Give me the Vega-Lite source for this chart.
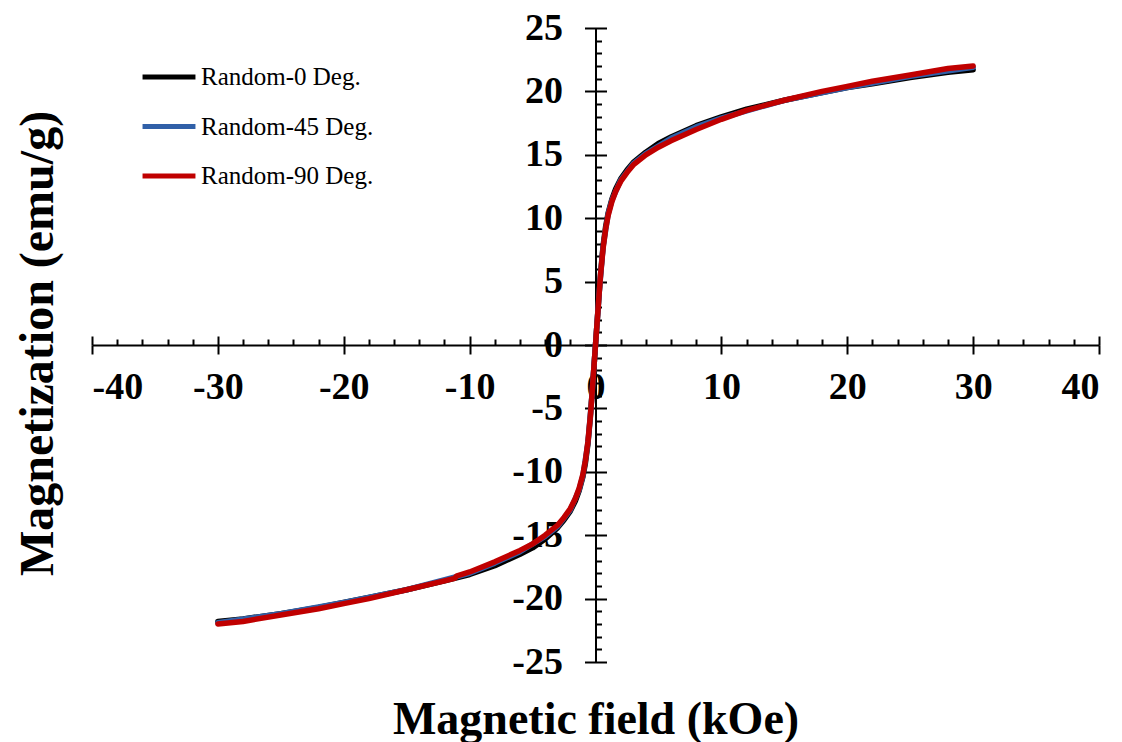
{
  "$schema": "https://vega.github.io/schema/vega-lite/v6.json",
  "width": 1007,
  "height": 634,
  "autosize": "none",
  "padding": {"left": 92, "top": 28, "right": 23, "bottom": 80},
  "background": "white",
  "config": {
    "view": {"stroke": null},
    "axis": {
      "grid": false,
      "domainColor": "black",
      "tickColor": "black",
      "domainWidth": 2,
      "tickWidth": 2,
      "labelFont": "Liberation Serif",
      "labelFontWeight": "bold",
      "labelFontSize": 38,
      "labelColor": "black",
      "titleFont": "Liberation Serif",
      "titleFontWeight": "bold",
      "titleColor": "black"
    }
  },
  "data": {
    "values": [
      {"s": "Random-0 Deg.", "H": -30, "M": -21.8},
      {"s": "Random-0 Deg.", "H": -28, "M": -21.6},
      {"s": "Random-0 Deg.", "H": -25, "M": -21.2},
      {"s": "Random-0 Deg.", "H": -22, "M": -20.7},
      {"s": "Random-0 Deg.", "H": -20, "M": -20.3},
      {"s": "Random-0 Deg.", "H": -18, "M": -19.9},
      {"s": "Random-0 Deg.", "H": -15, "M": -19.3},
      {"s": "Random-0 Deg.", "H": -12, "M": -18.6},
      {"s": "Random-0 Deg.", "H": -10, "M": -18.1},
      {"s": "Random-0 Deg.", "H": -8, "M": -17.4},
      {"s": "Random-0 Deg.", "H": -6, "M": -16.5},
      {"s": "Random-0 Deg.", "H": -5, "M": -16.0},
      {"s": "Random-0 Deg.", "H": -4, "M": -15.3},
      {"s": "Random-0 Deg.", "H": -3, "M": -14.4},
      {"s": "Random-0 Deg.", "H": -2.5, "M": -13.8},
      {"s": "Random-0 Deg.", "H": -2, "M": -13.1},
      {"s": "Random-0 Deg.", "H": -1.6, "M": -12.3},
      {"s": "Random-0 Deg.", "H": -1.3, "M": -11.5},
      {"s": "Random-0 Deg.", "H": -1.0, "M": -10.4},
      {"s": "Random-0 Deg.", "H": -0.8, "M": -9.3},
      {"s": "Random-0 Deg.", "H": -0.6, "M": -7.8},
      {"s": "Random-0 Deg.", "H": -0.4, "M": -5.6},
      {"s": "Random-0 Deg.", "H": -0.3, "M": -4.2},
      {"s": "Random-0 Deg.", "H": -0.2, "M": -2.8},
      {"s": "Random-0 Deg.", "H": -0.1, "M": -1.4},
      {"s": "Random-0 Deg.", "H": 0, "M": 0},
      {"s": "Random-0 Deg.", "H": 0.1, "M": 1.4},
      {"s": "Random-0 Deg.", "H": 0.2, "M": 2.8},
      {"s": "Random-0 Deg.", "H": 0.3, "M": 4.2},
      {"s": "Random-0 Deg.", "H": 0.4, "M": 5.6},
      {"s": "Random-0 Deg.", "H": 0.6, "M": 7.8},
      {"s": "Random-0 Deg.", "H": 0.8, "M": 9.3},
      {"s": "Random-0 Deg.", "H": 1.0, "M": 10.4},
      {"s": "Random-0 Deg.", "H": 1.3, "M": 11.5},
      {"s": "Random-0 Deg.", "H": 1.6, "M": 12.3},
      {"s": "Random-0 Deg.", "H": 2, "M": 13.1},
      {"s": "Random-0 Deg.", "H": 2.5, "M": 13.8},
      {"s": "Random-0 Deg.", "H": 3, "M": 14.4},
      {"s": "Random-0 Deg.", "H": 4, "M": 15.2},
      {"s": "Random-0 Deg.", "H": 5, "M": 15.9},
      {"s": "Random-0 Deg.", "H": 6, "M": 16.4},
      {"s": "Random-0 Deg.", "H": 8, "M": 17.3},
      {"s": "Random-0 Deg.", "H": 10, "M": 18.0},
      {"s": "Random-0 Deg.", "H": 12, "M": 18.6},
      {"s": "Random-0 Deg.", "H": 15, "M": 19.3},
      {"s": "Random-0 Deg.", "H": 18, "M": 19.9},
      {"s": "Random-0 Deg.", "H": 20, "M": 20.3},
      {"s": "Random-0 Deg.", "H": 22, "M": 20.6},
      {"s": "Random-0 Deg.", "H": 25, "M": 21.1},
      {"s": "Random-0 Deg.", "H": 28, "M": 21.5},
      {"s": "Random-0 Deg.", "H": 30, "M": 21.7},

      {"s": "Random-45 Deg.", "H": -30, "M": -21.9},
      {"s": "Random-45 Deg.", "H": -25, "M": -21.2},
      {"s": "Random-45 Deg.", "H": -20, "M": -20.3},
      {"s": "Random-45 Deg.", "H": -15, "M": -19.3},
      {"s": "Random-45 Deg.", "H": -10, "M": -18.0},
      {"s": "Random-45 Deg.", "H": -8, "M": -17.2},
      {"s": "Random-45 Deg.", "H": -6, "M": -16.3},
      {"s": "Random-45 Deg.", "H": -4, "M": -15.1},
      {"s": "Random-45 Deg.", "H": -3, "M": -14.3},
      {"s": "Random-45 Deg.", "H": -2, "M": -13.0},
      {"s": "Random-45 Deg.", "H": -1.3, "M": -11.4},
      {"s": "Random-45 Deg.", "H": -1.0, "M": -10.3},
      {"s": "Random-45 Deg.", "H": -0.6, "M": -7.7},
      {"s": "Random-45 Deg.", "H": -0.3, "M": -4.2},
      {"s": "Random-45 Deg.", "H": 0, "M": 0},
      {"s": "Random-45 Deg.", "H": 0.3, "M": 4.2},
      {"s": "Random-45 Deg.", "H": 0.6, "M": 7.7},
      {"s": "Random-45 Deg.", "H": 1.0, "M": 10.3},
      {"s": "Random-45 Deg.", "H": 1.3, "M": 11.4},
      {"s": "Random-45 Deg.", "H": 2, "M": 13.0},
      {"s": "Random-45 Deg.", "H": 3, "M": 14.3},
      {"s": "Random-45 Deg.", "H": 4, "M": 15.1},
      {"s": "Random-45 Deg.", "H": 6, "M": 16.3},
      {"s": "Random-45 Deg.", "H": 8, "M": 17.2},
      {"s": "Random-45 Deg.", "H": 10, "M": 17.9},
      {"s": "Random-45 Deg.", "H": 15, "M": 19.3},
      {"s": "Random-45 Deg.", "H": 20, "M": 20.3},
      {"s": "Random-45 Deg.", "H": 25, "M": 21.2},
      {"s": "Random-45 Deg.", "H": 30, "M": 21.9},

      {"s": "Random-90 Deg.", "H": -30, "M": -22.0},
      {"s": "Random-90 Deg.", "H": -28, "M": -21.8},
      {"s": "Random-90 Deg.", "H": -25, "M": -21.3},
      {"s": "Random-90 Deg.", "H": -22, "M": -20.8},
      {"s": "Random-90 Deg.", "H": -20, "M": -20.4},
      {"s": "Random-90 Deg.", "H": -18, "M": -20.0},
      {"s": "Random-90 Deg.", "H": -15, "M": -19.3},
      {"s": "Random-90 Deg.", "H": -12, "M": -18.6},
      {"s": "Random-90 Deg.", "H": -11.2, "M": -18.4},
      {"s": "Random-90 Deg.", "H": -11.0, "M": -18.2},
      {"s": "Random-90 Deg.", "H": -10, "M": -17.9},
      {"s": "Random-90 Deg.", "H": -8, "M": -17.1},
      {"s": "Random-90 Deg.", "H": -6, "M": -16.2},
      {"s": "Random-90 Deg.", "H": -5, "M": -15.7},
      {"s": "Random-90 Deg.", "H": -4, "M": -15.0},
      {"s": "Random-90 Deg.", "H": -3, "M": -14.2},
      {"s": "Random-90 Deg.", "H": -2.5, "M": -13.6},
      {"s": "Random-90 Deg.", "H": -2, "M": -12.9},
      {"s": "Random-90 Deg.", "H": -1.6, "M": -12.1},
      {"s": "Random-90 Deg.", "H": -1.3, "M": -11.3},
      {"s": "Random-90 Deg.", "H": -1.0, "M": -10.2},
      {"s": "Random-90 Deg.", "H": -0.8, "M": -9.1},
      {"s": "Random-90 Deg.", "H": -0.6, "M": -7.6},
      {"s": "Random-90 Deg.", "H": -0.4, "M": -5.5},
      {"s": "Random-90 Deg.", "H": -0.3, "M": -4.2},
      {"s": "Random-90 Deg.", "H": -0.2, "M": -2.8},
      {"s": "Random-90 Deg.", "H": -0.1, "M": -1.4},
      {"s": "Random-90 Deg.", "H": 0, "M": 0},
      {"s": "Random-90 Deg.", "H": 0.1, "M": 1.4},
      {"s": "Random-90 Deg.", "H": 0.2, "M": 2.8},
      {"s": "Random-90 Deg.", "H": 0.3, "M": 4.2},
      {"s": "Random-90 Deg.", "H": 0.4, "M": 5.5},
      {"s": "Random-90 Deg.", "H": 0.6, "M": 7.6},
      {"s": "Random-90 Deg.", "H": 0.8, "M": 9.1},
      {"s": "Random-90 Deg.", "H": 1.0, "M": 10.2},
      {"s": "Random-90 Deg.", "H": 1.3, "M": 11.3},
      {"s": "Random-90 Deg.", "H": 1.6, "M": 12.1},
      {"s": "Random-90 Deg.", "H": 2, "M": 12.9},
      {"s": "Random-90 Deg.", "H": 2.5, "M": 13.6},
      {"s": "Random-90 Deg.", "H": 3, "M": 14.2},
      {"s": "Random-90 Deg.", "H": 4, "M": 15.0},
      {"s": "Random-90 Deg.", "H": 5, "M": 15.6},
      {"s": "Random-90 Deg.", "H": 6, "M": 16.1},
      {"s": "Random-90 Deg.", "H": 8, "M": 17.0},
      {"s": "Random-90 Deg.", "H": 10, "M": 17.8},
      {"s": "Random-90 Deg.", "H": 12, "M": 18.5},
      {"s": "Random-90 Deg.", "H": 15, "M": 19.3},
      {"s": "Random-90 Deg.", "H": 18, "M": 20.0},
      {"s": "Random-90 Deg.", "H": 20, "M": 20.4},
      {"s": "Random-90 Deg.", "H": 22, "M": 20.8},
      {"s": "Random-90 Deg.", "H": 25, "M": 21.3},
      {"s": "Random-90 Deg.", "H": 28, "M": 21.8},
      {"s": "Random-90 Deg.", "H": 30, "M": 22.0}
    ]
  },
  "resolve": {"axis": {"x": "independent", "y": "independent"}},
  "layer": [
    {
      "mark": {"type": "line", "strokeWidth": 5.5, "strokeCap": "round", "strokeJoin": "round"},
      "encoding": {
        "x": {
          "field": "H", "type": "quantitative",
          "scale": {"domain": [-40, 40], "nice": false, "zero": false},
          "axis": {
            "orient": "bottom", "offset": -317,
            "values": [-40, -30, -20, -10, 0, 10, 20, 30, 40],
            "labelExpr": "datum.value < 0 ? '-' + abs(datum.value) : '' + datum.value",
            "tickSize": 9, "labelPadding": 14,
            "title": "Magnetic field (kOe)", "titleFontSize": 46,
            "titleX": 503.5, "titleY": 388, "titleBaseline": "alphabetic", "titleAlign": "center"
          }
        },
        "y": {
          "field": "M", "type": "quantitative",
          "scale": {"domain": [-25, 25], "nice": false, "zero": false},
          "axis": {
            "orient": "left", "offset": -503.5,
            "values": [-25, -20, -15, -10, -5, 0, 5, 10, 15, 20, 25],
            "labelExpr": "datum.value < 0 ? '-' + abs(datum.value) : '' + datum.value",
            "tickSize": 11, "labelPadding": 22,
            "title": "Magnetization (emu/g)", "titleFontSize": 48,
            "titleX": -543, "titleY": 315, "titleBaseline": "alphabetic", "titleAlign": "center", "titleAngle": -90
          }
        },
        "color": {
          "field": "s", "type": "nominal",
          "scale": {"domain": ["Random-0 Deg.", "Random-45 Deg.", "Random-90 Deg."], "range": ["#000000", "#3060A8", "#C00000"]},
          "legend": {
            "orient": "none", "legendX": 48, "legendY": 20,
            "title": null,
            "symbolType": "stroke", "symbolSize": 2800, "symbolStrokeWidth": 5,
            "labelFont": "Liberation Serif", "labelFontSize": 25, "labelColor": "black", "labelLimit": 0,
            "labelOffset": 3, "rowPadding": 7.5
          }
        }
      }
    },
    {
      "mark": {"type": "line", "opacity": 0},
      "encoding": {
        "x": {
          "field": "H", "type": "quantitative",
          "axis": {"orient": "top", "offset": -317, "values": [-40, -30, -20, -10, 0, 10, 20, 30, 40], "tickSize": 9, "labels": false, "domain": false, "title": null}
        },
        "y": {
          "field": "M", "type": "quantitative",
          "axis": {"orient": "right", "offset": -503.5, "values": [-25, -20, -15, -10, -5, 0, 5, 10, 15, 20, 25], "tickSize": 11, "labels": false, "domain": false, "title": null}
        },
        "detail": {"field": "s"}
      }
    },
    {
      "mark": {"type": "line", "opacity": 0},
      "encoding": {
        "x": {
          "field": "H", "type": "quantitative",
          "axis": {"orient": "top", "offset": -317, "values": [-38, -36, -34, -32, -28, -26, -24, -22, -18, -16, -14, -12, -8, -6, -4, -2, 2, 4, 6, 8, 12, 14, 16, 18, 22, 24, 26, 28, 32, 34, 36, 38], "tickSize": 6, "labels": false, "domain": false, "title": null}
        },
        "y": {
          "field": "M", "type": "quantitative",
          "axis": {"orient": "right", "offset": -503.5, "values": [-24, -23, -22, -21, -19, -18, -17, -16, -14, -13, -12, -11, -9, -8, -7, -6, -4, -3, -2, -1, 1, 2, 3, 4, 6, 7, 8, 9, 11, 12, 13, 14, 16, 17, 18, 19, 21, 22, 23, 24], "tickSize": 6, "labels": false, "domain": false, "title": null}
        },
        "detail": {"field": "s"}
      }
    }
  ]
}
